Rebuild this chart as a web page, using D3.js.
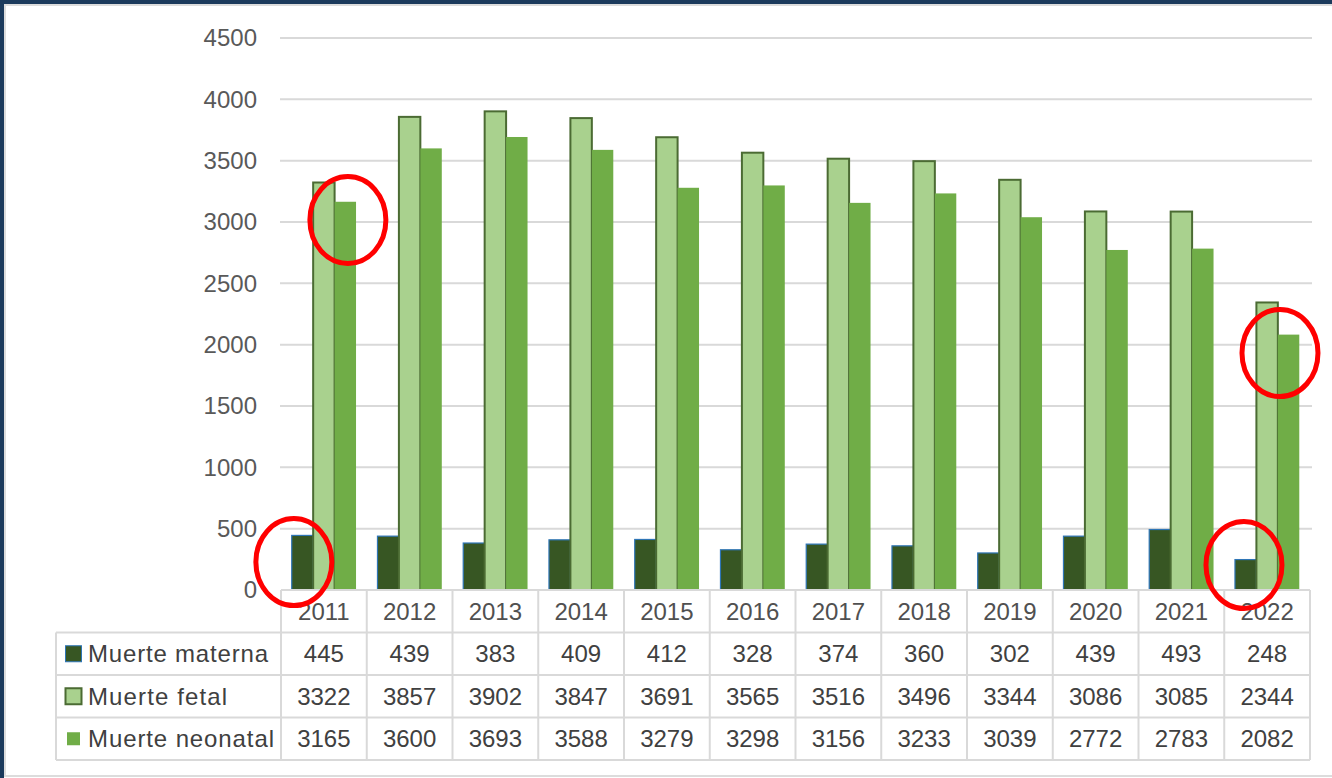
<!DOCTYPE html>
<html>
<head>
<meta charset="utf-8">
<script src="https://cdnjs.cloudflare.com/ajax/libs/d3/7.8.5/d3.min.js"></script>
<style>
  body { margin: 0; background: #fff; }
  svg text { font-family: "Liberation Sans", Arial, sans-serif; }
</style>
</head>
<body>
<svg id="chart" width="1332" height="778"></svg>
<script>
var years = ["2011","2012","2013","2014","2015","2016","2017","2018","2019","2020","2021","2022"];
var seriesNames = ["Muerte materna", "Muerte fetal", "Muerte neonatal"];
var materna  = [445, 439, 383, 409, 412, 328, 374, 360, 302, 439, 493, 248];
var fetal    = [3322, 3857, 3902, 3847, 3691, 3565, 3516, 3496, 3344, 3086, 3085, 2344];
var neonatal = [3165, 3600, 3693, 3588, 3279, 3298, 3156, 3233, 3039, 2772, 2783, 2082];
var yTicks = [0, 500, 1000, 1500, 2000, 2500, 3000, 3500, 4000, 4500];
// red circles drawn over the picture: year, value at centre, place inside the year slot
var markYears  = ["2011", "2011", "2022", "2022"];
var markValues = [3016, 228, 1932, 204];
var markPlace  = [0.78, 0.15, 0.65, 0.23];

var fills   = ["#375623", "#a9d18e", "#70ad47"];
var strokes = ["#2e75b6", "#4b6b33", "none"];
var allSeries = [materna, fetal, neonatal];

var svg = d3.select("#chart");

// frame
svg.append("rect").attr("x", 5).attr("y", 5).attr("width", 1340).attr("height", 771)
  .attr("fill", "#fff").attr("stroke", "#dcdcdc").attr("stroke-width", 2);
svg.append("rect").attr("x", 0).attr("y", 0).attr("width", 1332).attr("height", 4).attr("fill", "#1b3a5c");
svg.append("rect").attr("x", 0).attr("y", 0).attr("width", 4).attr("height", 778).attr("fill", "#1b3a5c");

var y = d3.scaleLinear().domain([0, 4500]).range([590, 38]);
var x = d3.scaleBand().domain(years).range([281, 1310]);
var xs = d3.scaleBand().domain(seriesNames).range([x.bandwidth() / 8, x.bandwidth() * 7 / 8]);

// gridlines
svg.append("g").selectAll("line").data(yTicks.slice(1)).join("line")
  .attr("x1", 280).attr("x2", 1312)
  .attr("y1", d => y(d)).attr("y2", d => y(d))
  .attr("stroke", "#d9d9d9").attr("stroke-width", 2);

// y axis labels
var yAxis = d3.axisLeft(y).tickValues(yTicks).tickFormat(d3.format("d")).tickSize(0).tickPadding(0);
svg.append("g").attr("transform", "translate(257,0)").call(yAxis)
  .call(g => g.select(".domain").remove())
  .selectAll("text").attr("font-size", 24).attr("fill", "#595959")
  .attr("font-family", "Liberation Sans, Arial, sans-serif");

// bars
allSeries.forEach(function (vals, si) {
  svg.append("g").selectAll("rect").data(vals).join("rect")
    .attr("x", (d, i) => x(years[i]) + xs(seriesNames[si]))
    .attr("y", d => y(d))
    .attr("width", xs.bandwidth())
    .attr("height", d => y(0) - y(d))
    .attr("fill", fills[si])
    .attr("stroke", strokes[si])
    .attr("stroke-width", si == 1 ? 2 : 1.2);
});

// data table
var rowH = 42.5;
var top0 = y(0);
var tg = svg.append("g");
var gridCol = "#d9d9d9";
for (var r = 0; r <= 4; r++) {
  tg.append("line").attr("x1", r == 0 ? 281 : 56).attr("x2", 1310)
    .attr("y1", top0 + r * rowH).attr("y2", top0 + r * rowH)
    .attr("stroke", gridCol).attr("stroke-width", 2);
}
years.concat(["end"]).forEach(function (yr, i) {
  var xx = i < years.length ? x(yr) : x(years[years.length - 1]) + x.bandwidth();
  tg.append("line").attr("x1", xx).attr("x2", xx)
    .attr("y1", top0).attr("y2", top0 + 4 * rowH)
    .attr("stroke", gridCol).attr("stroke-width", 2);
});
tg.append("line").attr("x1", 56).attr("x2", 56)
  .attr("y1", top0 + rowH).attr("y2", top0 + 4 * rowH)
  .attr("stroke", gridCol).attr("stroke-width", 2);

// year labels
tg.selectAll("text.yr").data(years).join("text").attr("class", "yr")
  .attr("x", d => x(d) + x.bandwidth() / 2)
  .attr("y", top0 + rowH / 2)
  .attr("dy", "0.36em").attr("text-anchor", "middle")
  .attr("font-size", 24).attr("fill", "#505050").text(d => d);

// value rows with legend keys
allSeries.forEach(function (vals, si) {
  var ry = top0 + (si + 1) * rowH + rowH / 2;
  tg.append("g").selectAll("text").data(vals).join("text")
    .attr("x", (d, i) => x(years[i]) + x.bandwidth() / 2)
    .attr("y", ry).attr("dy", "0.36em").attr("text-anchor", "middle")
    .attr("font-size", 24).attr("fill", "#404040").text(d => d);
  var ks = si == 2 ? 13 : 16;
  tg.append("rect").attr("x", 73.5 - ks / 2).attr("y", ry - ks / 2)
    .attr("width", ks).attr("height", ks)
    .attr("fill", fills[si])
    .attr("stroke", si == 2 ? "none" : (si == 0 ? "#2e75b6" : "#4b6b33"))
    .attr("stroke-width", si == 1 ? 2 : 1);
  tg.append("text").attr("x", 88).attr("y", ry).attr("dy", "0.36em")
    .attr("font-size", 24).attr("fill", "#404040")
    .attr("textLength", si == 0 ? 180 : (si == 1 ? 139 : 186))
    .text(seriesNames[si]);
});

// red annotation circles
svg.append("g").selectAll("ellipse").data(markYears).join("ellipse")
  .attr("cx", (d, i) => x(d) + markPlace[i] * x.bandwidth())
  .attr("cy", (d, i) => y(markValues[i]))
  .attr("rx", 38).attr("ry", 43.5)
  .attr("fill", "none").attr("stroke", "#ff0000").attr("stroke-width", 5);
</script>
</body>
</html>
